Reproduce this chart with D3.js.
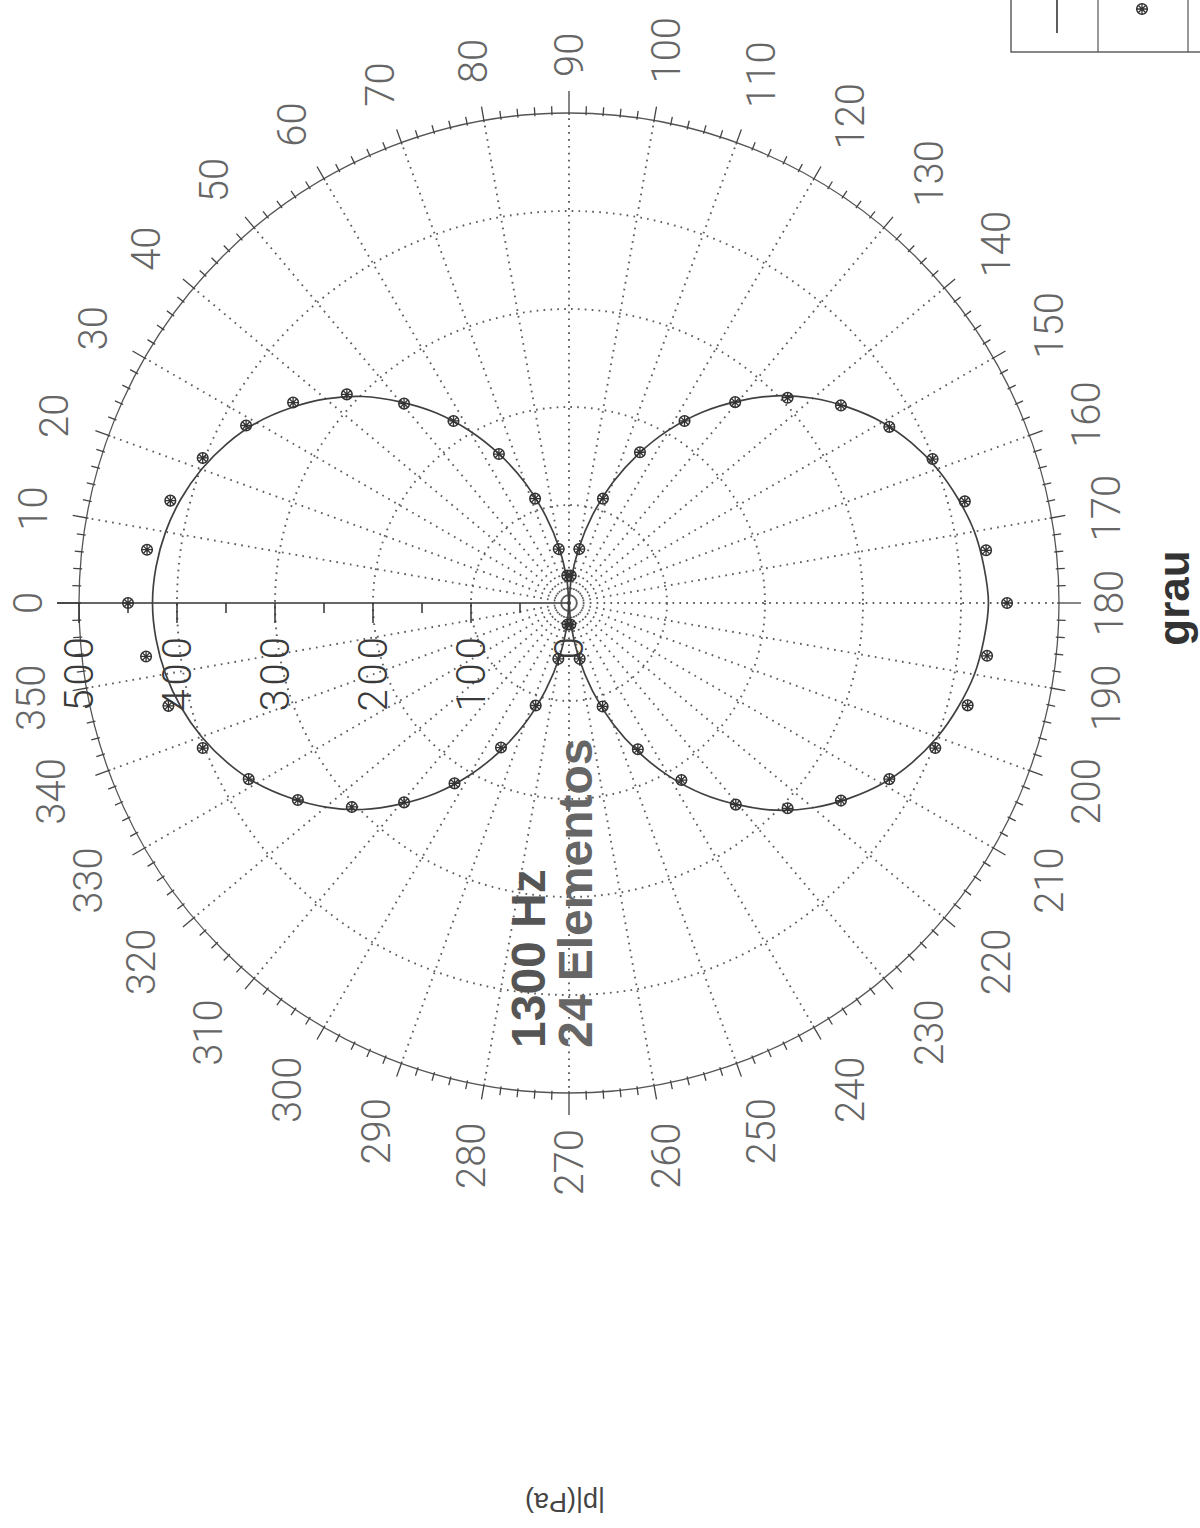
<!DOCTYPE html>
<html>
<head>
<meta charset="utf-8">
<script src="https://cdn.jsdelivr.net/npm/d3@7"></script>
<style>
  html, body { margin: 0; padding: 0; background: #fff; }
  svg { display: block; }
</style>
</head>
<body>
<svg id="polarPlot" width="1200" height="1528"></svg>
<script>
// pontos medidos (graus, |p| em Pa)
const markerAngles = [0, 7.2, 14.4, 21.6, 28.8, 36, 43.2, 50.4, 57.6, 64.8,
    72, 79.2, 86.4, 93.6, 100.8, 108, 115.2, 122.4, 129.6, 136.8,
    144, 151.2, 158.4, 165.6, 172.8, 180, 187.2, 194.4, 201.6, 208.8,
    216, 223.2, 230.4, 237.6, 244.8, 252, 259.2, 266.4, 273.6, 280.8,
    288, 295.2, 302.4, 309.6, 316.8, 324, 331.2, 338.4, 345.6, 352.8];
const markerValues = [450, 434, 420, 402, 376, 348, 311, 264, 220, 168,
    112, 56, 28, 28, 56, 112, 170, 220, 266, 306,
    343, 373, 399, 417, 429, 447, 430, 420, 402, 373,
    343, 306, 267, 214, 165, 111, 58, 22, 22, 58,
    110, 163, 218, 264, 304, 342, 373, 402, 422, 435];

// curva teorica
const lineAngles = [0, 5, 10, 15, 20, 25, 30, 35, 40, 45, 50, 55, 60, 65, 70, 75, 80, 85, 90,
    95, 100, 105, 110, 115, 120, 125, 130, 135, 140, 145, 150, 155, 160, 165, 170, 175, 180,
    185, 190, 195, 200, 205, 210, 215, 220, 225, 230, 235, 240, 245, 250, 255, 260, 265, 270,
    275, 280, 285, 290, 295, 300, 305, 310, 315, 320, 325, 330, 335, 340, 345, 350, 355];
const lineValues = [425, 423, 418, 410, 399, 385, 368, 347, 324, 298, 268, 237, 203, 167, 130, 92, 56, 22, 0,
    22, 56, 93, 131, 168, 204, 238, 269, 299, 325, 348, 369, 386, 400, 411, 420, 425, 428,
    425, 420, 411, 400, 386, 369, 348, 325, 299, 269, 238, 204, 168, 131, 93, 56, 22, 0,
    22, 56, 92, 130, 167, 203, 237, 268, 298, 324, 347, 368, 385, 399, 410, 418, 423];

const angleTicks = [0, 10, 20, 30, 40, 50, 60, 70, 80, 90, 100, 110, 120, 130, 140, 150, 160, 170,
    180, 190, 200, 210, 220, 230, 240, 250, 260, 270, 280, 290, 300, 310, 320, 330, 340, 350];
const radialTicks = [0, 100, 200, 300, 400, 500];
const radialMinorTicks = [50, 150, 250, 350, 450];
const ringValues = [100, 200, 300, 400];

const svg = d3.select("#polarPlot");
const cx = 569, cy = 603;
const rMax = 490;

const rScale = d3.scaleLinear().domain([0, 500]).range([0, rMax]);
// 0 grau a esquerda, 90 em cima, sentido horario
const aScale = d3.scaleLinear().domain([0, 360]).range([-Math.PI / 2, 1.5 * Math.PI]);

const g = svg.append("g").attr("transform", `translate(${cx}, ${cy})`);

// grade
g.selectAll(".ring")
    .data(ringValues)
    .enter()
    .append("circle")
    .attr("class", "ring")
    .attr("r", (d) => rScale(d))
    .attr("fill", "none")
    .attr("stroke", "#5e5e5e")
    .attr("stroke-width", 1.9)
    .attr("stroke-dasharray", "1.7,5.2");

g.selectAll(".spoke")
    .data(angleTicks.filter((d) => d !== 0))
    .enter()
    .append("line")
    .attr("class", "spoke")
    .attr("x1", 0)
    .attr("y1", 0)
    .attr("x2", (d) => d3.pointRadial(aScale(d), rMax)[0])
    .attr("y2", (d) => d3.pointRadial(aScale(d), rMax)[1])
    .attr("stroke", "#5e5e5e")
    .attr("stroke-width", 1.9)
    .attr("stroke-dasharray", "1.7,5.2");

// circulo externo e marcas
g.append("circle")
    .attr("r", rMax)
    .attr("fill", "none")
    .attr("stroke", "#555")
    .attr("stroke-width", 1.3);

const tickDeg = d3.range(0, 360, 2);
g.selectAll(".ctick")
    .data(tickDeg)
    .enter()
    .append("line")
    .attr("class", "ctick")
    .each(function (d) {
        let len = d % 10 === 0 ? 14 : 7;
        if (d % 90 === 0) len = 22;
        const p1 = d3.pointRadial(aScale(d), rMax - 2);
        const p2 = d3.pointRadial(aScale(d), rMax + len);
        d3.select(this)
            .attr("x1", p1[0]).attr("y1", p1[1])
            .attr("x2", p2[0]).attr("y2", p2[1]);
    })
    .attr("stroke", "#444")
    .attr("stroke-width", 1.3);

// eixo radial (0 grau)
g.append("line")
    .attr("x1", 0).attr("y1", 0)
    .attr("x2", -(rMax + 22)).attr("y2", 0)
    .attr("stroke", "#333")
    .attr("stroke-width", 1.6);

g.selectAll(".rtick")
    .data(radialTicks.filter((d) => d > 0))
    .enter()
    .append("line")
    .attr("x1", (d) => -rScale(d)).attr("x2", (d) => -rScale(d))
    .attr("y1", 0).attr("y2", 20)
    .attr("stroke", "#333")
    .attr("stroke-width", 1.5);

g.selectAll(".rmtick")
    .data(radialMinorTicks)
    .enter()
    .append("line")
    .attr("x1", (d) => -rScale(d)).attr("x2", (d) => -rScale(d))
    .attr("y1", 0).attr("y2", 10)
    .attr("stroke", "#333")
    .attr("stroke-width", 1.5);

g.selectAll(".rlabel")
    .data(radialTicks)
    .enter()
    .append("text")
    .attr("class", "rlabel")
    .attr("transform", (d) => `translate(${-rScale(d)}, 30) rotate(-90)`)
    .attr("text-anchor", "end")
    .attr("dominant-baseline", "central")
    .attr("font-family", "Roboto, 'Liberation Sans', sans-serif")
    .attr("font-weight", 300)
    .attr("font-size", 40)
    .attr("letter-spacing", 4)
    .attr("fill", "#3a3a3a")
    .text((d) => d);

// rotulos dos angulos
const labelSize = 40;
const labelGap = 36;
g.selectAll(".alabel")
    .data(angleTicks)
    .enter()
    .append("text")
    .attr("class", "alabel")
    .attr("text-anchor", "middle")
    .attr("dominant-baseline", "central")
    .attr("font-family", "Roboto, 'Liberation Sans', sans-serif")
    .attr("font-weight", 300)
    .attr("font-size", labelSize)
    .attr("fill", "#666")
    .text((d) => d)
    .each(function (d) {
        const bb = this.getBBox();
        const u = d3.pointRadial(aScale(d), 1);
        const s = Math.abs(u[0]) * 0.72 * labelSize / 2 + Math.abs(u[1]) * bb.width / 2;
        const R = rMax + labelGap + s;
        d3.select(this).attr("transform", `translate(${u[0] * R}, ${u[1] * R}) rotate(-90)`);
    });

// curva
const line = d3
    .lineRadial()
    .angle((d) => aScale(d.angle))
    .radius((d) => rScale(d.value))
    .curve(d3.curveCatmullRomClosed.alpha(0.5));

const lineData = lineAngles.map((a, i) => ({ angle: a, value: lineValues[i] }));
g.append("path")
    .datum(lineData)
    .attr("d", line)
    .attr("fill", "none")
    .attr("stroke", "#404040")
    .attr("stroke-width", 1.7);

// marcadores
function drawMarker(sel) {
    sel.append("circle")
        .attr("r", 5.3)
        .attr("fill", "none")
        .attr("stroke", "#333")
        .attr("stroke-width", 1.5);
    sel.append("path")
        .attr("d", "M-5.5,0H5.5M0,-5.5V5.5M-3.8,-3.8L3.8,3.8M-3.8,3.8L3.8,-3.8")
        .attr("stroke", "#333")
        .attr("stroke-width", 1.3);
}

const markerData = markerAngles.map((a, i) => ({ angle: a, value: markerValues[i] }));
const markers = g.selectAll(".marker")
    .data(markerData)
    .enter()
    .append("g")
    .attr("class", "marker")
    .attr("transform", (d) => {
        const p = d3.pointRadial(aScale(d.angle), rScale(d.value));
        return `translate(${p[0]}, ${p[1]})`;
    });
drawMarker(markers);

// textos
svg.append("text")
    .attr("transform", "translate(545, 1048) rotate(-90)")
    .attr("font-family", "'Liberation Sans', Arial, sans-serif")
    .attr("font-weight", "bold")
    .attr("font-size", 48)
    .attr("fill", "#555")
    .text("1300 Hz");

svg.append("text")
    .attr("transform", "translate(592, 1048) rotate(-90)")
    .attr("font-family", "'Liberation Sans', Arial, sans-serif")
    .attr("font-weight", "bold")
    .attr("font-size", 48)
    .attr("fill", "#666")
    .text("24 Elementos");

svg.append("text")
    .attr("transform", "translate(1189, 598) rotate(-90)")
    .attr("text-anchor", "middle")
    .attr("font-family", "'Liberation Sans', Arial, sans-serif")
    .attr("font-weight", "bold")
    .attr("font-size", 44)
    .attr("fill", "#333")
    .text("grau");

svg.append("text")
    .attr("transform", "translate(565, 1502) rotate(180)")
    .attr("text-anchor", "middle")
    .attr("dominant-baseline", "central")
    .attr("font-family", "'Liberation Sans', Arial, sans-serif")
    .attr("font-size", 27)
    .attr("fill", "#444")
    .text("|p|(Pa)");

// legenda
const legend = svg.append("g").attr("transform", "translate(1011, 0)");
legend.append("rect")
    .attr("x", 0).attr("y", -10)
    .attr("width", 240).attr("height", 62)
    .attr("fill", "#fff")
    .attr("stroke", "#555")
    .attr("stroke-width", 1.4);
legend.append("line")
    .attr("x1", 87).attr("x2", 87).attr("y1", -10).attr("y2", 52)
    .attr("stroke", "#555").attr("stroke-width", 1.2);
legend.append("line")
    .attr("x1", 177).attr("x2", 177).attr("y1", -10).attr("y2", 52)
    .attr("stroke", "#555").attr("stroke-width", 1.2);
legend.append("line")
    .attr("x1", 46).attr("x2", 46).attr("y1", -5).attr("y2", 33)
    .attr("stroke", "#404040").attr("stroke-width", 1.7);
const legendMarker = legend.append("g").attr("transform", "translate(131, 9)");
drawMarker(legendMarker);
</script>
</body>
</html>
